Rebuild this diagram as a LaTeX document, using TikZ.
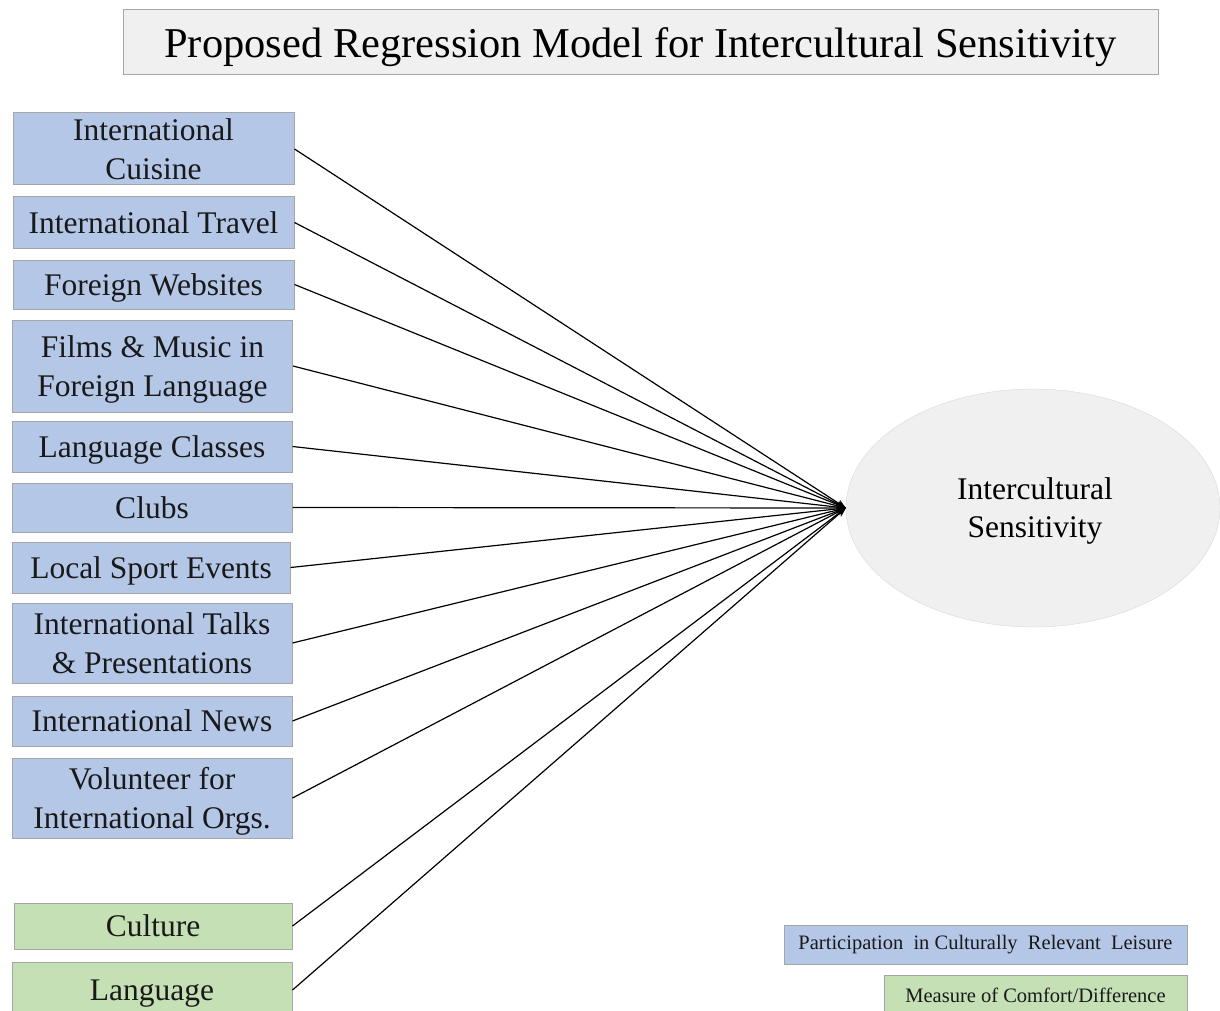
\documentclass[tikz,border=0pt]{standalone}
\usepackage{fontspec}
\setmainfont{Liberation Serif}
\usetikzlibrary{shapes.geometric,arrows.meta}
\definecolor{boxblue}{HTML}{B4C7E7}
\definecolor{boxgreen}{HTML}{C5E0B4}
\definecolor{titlegray}{HTML}{F0F0F0}
\definecolor{edgegray}{HTML}{A6A6A6}
\definecolor{ellfill}{HTML}{F0F0F0}
\tikzset{
  varbox/.style={draw=edgegray, line width=1pt, rectangle, inner sep=0pt, align=center,
    text depth=0pt, font=\fontsize{31.5}{39}\selectfont, text=black!90},
  bluebox/.style={varbox, fill=boxblue},
  greenbox/.style={varbox, fill=boxgreen},
  legbox/.style={draw=edgegray, line width=1pt, rectangle, inner sep=0pt, align=center,
    font=\fontsize{20.5}{22}\selectfont, text=black!90},
  conn/.style={line width=1.2pt, -{Stealth[length=9pt,width=7pt]}},
}
\begin{document}
\begin{tikzpicture}[x=1pt,y=-1pt]
\useasboundingbox (0,0) rectangle (1220,1011);
% title
\node[draw=edgegray, fill=titlegray, line width=1pt, minimum width=1035pt, minimum height=65pt, inner sep=0pt,
  text depth=0pt, font=\fontsize{42.5}{46}\selectfont] (title) at (640.5,42.5) {Proposed Regression Model for Intercultural Sensitivity};
% outcome ellipse
\node[ellipse, draw=black!15, fill=ellfill, minimum width=374pt, minimum height=238pt, inner sep=0pt,
  align=center, text depth=0pt, font=\fontsize{31.5}{38}\selectfont] (is) at (1033,508) {\hspace*{4pt}Intercultural\\\hspace*{4pt}Sensitivity};
% predictors
\node[bluebox, minimum width=281pt, minimum height=72pt] (b1) at (153.5,149) {International\\Cuisine\rule[-6pt]{0pt}{6pt}};
\node[bluebox, minimum width=281pt, minimum height=51pt] (b2) at (153.5,222.5) {International Travel};
\node[bluebox, minimum width=281pt, minimum height=49pt] (b3) at (153.5,284.5) {Foreign Websites};
\node[bluebox, minimum width=280pt, minimum height=92pt] (b4) at (152.5,366) {Films \& Music in\\Foreign Language};
\node[bluebox, minimum width=280pt, minimum height=51pt] (b5) at (152,446.5) {Language Classes};
\node[bluebox, minimum width=280pt, minimum height=49pt] (b6) at (152,507.5) {Clubs};
\node[bluebox, minimum width=278pt, minimum height=51pt] (b7) at (151,567.5) {Local Sport Events};
\node[bluebox, minimum width=280pt, minimum height=80pt] (b8) at (152,643) {International Talks\\\& Presentations};
\node[bluebox, minimum width=280pt, minimum height=50pt] (b9) at (152,721) {International News};
\node[bluebox, minimum width=280pt, minimum height=80pt] (b10) at (152,798) {Volunteer for\\International Orgs.};
\node[greenbox, minimum width=278pt, minimum height=46pt] (g1) at (153,926) {Culture};
\node[greenbox, minimum width=280pt, minimum height=56pt] (g2) at (152,990) {Language};
% connectors
\foreach \n in {b1,b2,b3,b4,b5,b6,b7,b8,b9,b10,g1,g2}
  \draw[conn] (\n.east) -- (is.west);
% legend
\node[legbox, fill=boxblue, minimum width=403pt, minimum height=39pt] (leg1) at (985.5,944.5)
  {Participation\ \ in Culturally\ \ Relevant\ \ Leisure};
\node[legbox, fill=boxgreen, minimum width=303pt, minimum height=40pt] (leg2) at (1035.5,995)
  {Measure of Comfort/Difference};
\end{tikzpicture}
\end{document}
